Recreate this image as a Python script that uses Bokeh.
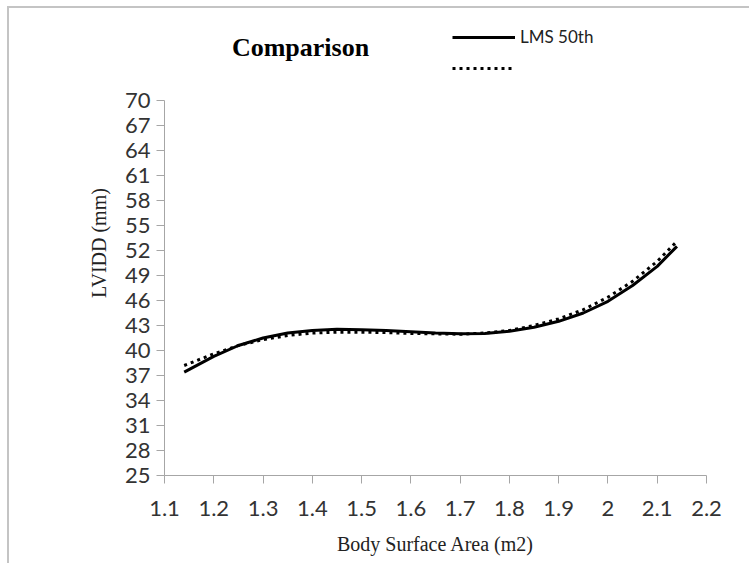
from bokeh.plotting import figure
from bokeh.models import Label, Legend, LegendItem, FixedTicker
from bokeh.core.properties import value
from bokeh.embed import file_html
from bokeh.resources import INLINE

# ---- data ----
bsa = [1.14, 1.20, 1.25, 1.30, 1.35, 1.40, 1.45, 1.50, 1.55, 1.60, 1.65,
       1.70, 1.75, 1.80, 1.85, 1.90, 1.95, 2.00, 2.05, 2.10, 2.14]
lms_50th = [37.4, 39.3, 40.6, 41.5, 42.1, 42.4, 42.55, 42.5, 42.4, 42.25, 42.1,
            42.0, 42.05, 42.3, 42.8, 43.5, 44.5, 45.9, 47.8, 50.1, 52.5]
other = [38.2, 39.6, 40.6, 41.3, 41.8, 42.1, 42.2, 42.2, 42.15, 42.05, 42.0,
         41.95, 42.1, 42.4, 43.0, 43.8, 44.9, 46.4, 48.3, 50.7, 53.1]
x_ticks = [1.1, 1.2, 1.3, 1.4, 1.5, 1.6, 1.7, 1.8, 1.9, 2.0, 2.1, 2.2]
x_tick_labels = ["1.1", "1.2", "1.3", "1.4", "1.5", "1.6", "1.7", "1.8", "1.9", "2", "2.1", "2.2"]
y_ticks = [25, 28, 31, 34, 37, 40, 43, 46, 49, 52, 55, 58, 61, 64, 67, 70]

# frame extends above the y axis (axis bounded to 25..70) so title/legend sit inside it
p = figure(width=742, height=557, output_backend="svg", toolbar_location=None,
           x_range=(1.1, 2.2), y_range=(25, 80.8),
           min_border_left=155, min_border_right=45, min_border_top=2, min_border_bottom=90)
p.margin = (6, 0, 0, 7)
p.styles = {"border-left": "2px solid #c4c4c4", "border-top": "2px solid #c4c4c4"}
p.outline_line_color = None
p.grid.visible = False
p.background_fill_color = "white"
p.border_fill_color = "white"

axis_col = "#a6a6a6"
for ax in (p.xaxis[0], p.yaxis[0]):
    ax.axis_line_color = axis_col
    ax.major_tick_line_color = axis_col
    ax.minor_tick_line_color = None
    ax.major_tick_in = 0
    ax.major_tick_out = 8
    ax.major_label_text_font = "Lato"
    ax.major_label_text_font_size = "22px"
    ax.major_label_text_color = "#333333"
    ax.axis_label_text_font = "Liberation Serif"
    ax.axis_label_text_font_style = "normal"
    ax.axis_label_text_font_size = "20px"
    ax.axis_label_text_color = "#222222"

p.xaxis.ticker = FixedTicker(ticks=x_ticks)
p.xaxis.major_label_overrides = {t: l for t, l in zip(x_ticks, x_tick_labels)}
p.yaxis.ticker = FixedTicker(ticks=y_ticks)
p.yaxis.bounds = (25, 70)
p.xaxis.axis_label = "Body Surface Area (m2)"
p.yaxis.axis_label = "LVIDD (mm)"
p.xaxis.major_label_standoff = 17
p.yaxis.major_label_standoff = 6
p.xaxis.axis_label_standoff = 14
p.yaxis.axis_label_standoff = 12

r1 = p.line(bsa, lms_50th, line_color="black", line_width=3)
r2 = p.line(bsa, other, line_color="black", line_width=3, line_dash="3 4")

p.add_layout(Label(x=136, y=428, x_units="screen", y_units="screen", text="Comparison",
                   text_font="Liberation Serif", text_font_style="bold", text_font_size="26px",
                   text_align="center", text_baseline="middle", text_color="black"))

legend = Legend(items=[LegendItem(label="LMS 50th", renderers=[r1]),
                       LegendItem(label=value(" "), renderers=[r2])],
                location=(288, 397), orientation="vertical",
                glyph_width=63, glyph_height=20, label_standoff=5, spacing=11,
                padding=0, margin=0, label_text_font="Lato", label_text_font_size="17px",
                label_text_color="#222222", border_line_color=None, background_fill_alpha=0)
p.add_layout(legend)

open("out.html", "w").write(file_html(p, INLINE))
